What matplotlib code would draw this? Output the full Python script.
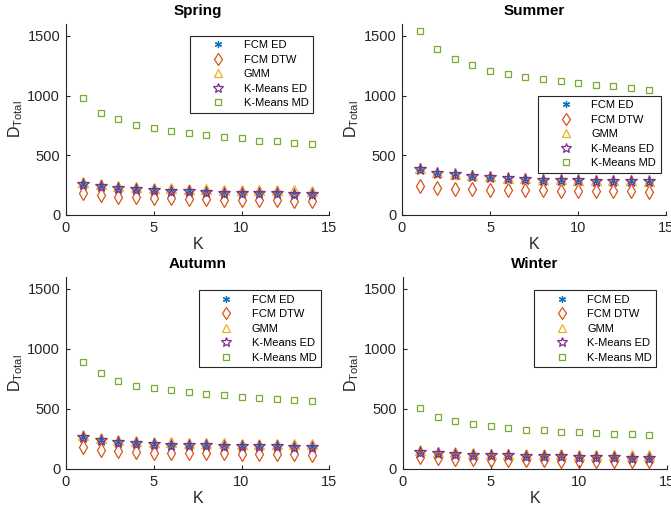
import numpy as np
import matplotlib.pyplot as plt

plt.rcParams['font.family'] = ['Liberation Sans', 'DejaVu Sans']
plt.rcParams['mathtext.default'] = 'regular'

K = np.arange(1, 15)
seasons = ['Spring', 'Summer', 'Autumn', 'Winter']

# total distance per method, one list per season
fcm_ed = {
    'Spring': [260, 243, 229, 215, 210, 201, 198, 193, 187, 184, 182, 181, 179, 176],
    'Summer': [383, 355, 341, 330, 318, 308, 301, 296, 293, 290, 288, 286, 284, 282],
    'Autumn': [269, 242, 225, 217, 206, 203, 200, 197, 194, 192, 191, 190, 186, 183],
    'Winter': [144, 135, 127, 120, 116, 113, 110, 106, 104, 102, 99, 97, 95, 93],
}
fcm_dtw = {
    'Spring': [182, 168, 154, 148, 145, 140, 134, 131, 127, 126, 123, 122, 120, 117],
    'Summer': [243, 226, 220, 216, 212, 209, 207, 205, 203, 201, 200, 199, 198, 196],
    'Autumn': [181, 158, 147, 142, 136, 135, 133, 131, 130, 128, 127, 126, 122, 119],
    'Winter': [100, 92, 86, 80, 77, 75, 73, 71, 70, 68, 67, 66, 65, 64],
}
gmm = {
    'Spring': [275, 258, 245, 235, 228, 222, 219, 216, 212, 210, 208, 207, 205, 204],
    'Summer': [390, 360, 346, 335, 323, 313, 306, 301, 298, 295, 293, 291, 289, 287],
    'Autumn': [282, 258, 242, 234, 226, 222, 219, 216, 214, 212, 211, 210, 207, 205],
    'Winter': [155, 145, 138, 132, 128, 126, 124, 122, 121, 120, 119, 118, 118, 117],
}
kmeans_ed = {
    'Spring': [260, 243, 229, 215, 210, 201, 198, 193, 187, 184, 182, 181, 179, 176],
    'Summer': [383, 355, 341, 330, 318, 308, 301, 296, 293, 290, 288, 286, 284, 282],
    'Autumn': [269, 242, 225, 217, 206, 203, 200, 197, 194, 192, 191, 190, 186, 183],
    'Winter': [144, 135, 127, 120, 116, 113, 110, 106, 104, 102, 99, 97, 95, 93],
}
kmeans_md = {
    'Spring': [983, 855, 800, 757, 729, 704, 690, 668, 654, 643, 623, 615, 604, 598],
    'Summer': [1536, 1386, 1305, 1252, 1207, 1182, 1159, 1137, 1121, 1107, 1092, 1076, 1065, 1050],
    'Autumn': [889, 800, 731, 694, 672, 656, 639, 622, 614, 603, 592, 583, 575, 564],
    'Winter': [505, 431, 403, 375, 358, 344, 328, 322, 308, 305, 300, 294, 291, 283],
}

# axes rectangles [left, bottom, width, height] and legend anchors
rects = {
    'Spring': [0.098, 0.576, 0.393, 0.377],
    'Summer': [0.599, 0.576, 0.394, 0.377],
    'Autumn': [0.098, 0.075, 0.393, 0.379],
    'Winter': [0.600, 0.075, 0.394, 0.379],
}
leg_pos = {
    'Spring': (0.473, 0.937),
    'Summer': (0.515, 0.623),
    'Autumn': (0.504, 0.929),
    'Winter': (0.496, 0.929),
}

axcol = '#262626'
fig = plt.figure(figsize=(6.71, 5.07), dpi=100)

for s in seasons:
    ax = fig.add_axes(rects[s])
    ax.plot(K, fcm_ed[s], ls='none', marker=(6, 2, 0), ms=6, mew=0.9,
            color='#0072BD', label='FCM ED')
    ax.plot(K, fcm_dtw[s], ls='none', marker='d', ms=7, mew=0.9, mfc='none',
            color='#D95319', label='FCM DTW')
    ax.plot(K, gmm[s], ls='none', marker='^', ms=7, mew=0.9, mfc='none',
            color='#EDB120', label='GMM')
    ax.plot(K, kmeans_ed[s], ls='none', marker='*', ms=8.5, mew=0.9, mfc='none',
            color='#7E2F8E', label='K-Means ED')
    ax.plot(K, kmeans_md[s], ls='none', marker='s', ms=4.5, mew=0.9, mfc='none',
            color='#77AC30', label='K-Means MD')

    ax.set_xlim(0, 15)
    ax.set_ylim(0, 1600)
    ax.set_xticks([0, 5, 10, 15])
    ax.set_yticks([0, 500, 1000, 1500])
    for side in ['top', 'right']:
        ax.spines[side].set_visible(False)
    for side in ['left', 'bottom']:
        ax.spines[side].set_color(axcol)
        ax.spines[side].set_linewidth(0.8)
    ax.tick_params(direction='in', length=3, width=0.8, colors=axcol,
                   labelsize=10.5, pad=4)
    ax.set_title(s, fontsize=11, fontweight='bold', pad=6)
    ax.set_xlabel('K', fontsize=11.5, color=axcol, labelpad=2)
    ax.set_ylabel(r'D$_{Total}$', fontsize=11.5, color=axcol, labelpad=2)

    leg = ax.legend(loc='upper left', bbox_to_anchor=leg_pos[s],
                    borderaxespad=0, fontsize=8, fancybox=False,
                    edgecolor='#262626', framealpha=1, handlelength=4.2,
                    handletextpad=0.2, labelspacing=0.4, borderpad=0.4,
                    markerscale=0.85)
    leg.get_frame().set_linewidth(0.8)

fig.savefig('out.png', dpi=100)
